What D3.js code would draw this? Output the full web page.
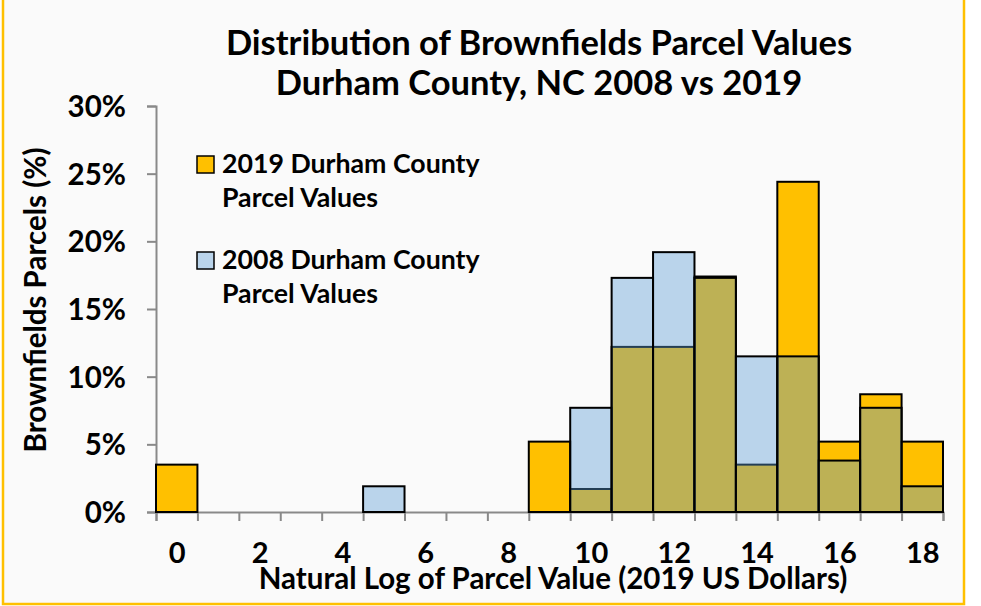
<!DOCTYPE html>
<html>
<head>
<meta charset="utf-8">
<script src="https://cdn.jsdelivr.net/npm/d3@7"></script>
<style>
  body { margin: 0; background: #fff; }
  svg text { font-family: Lato, "Open Sans", sans-serif; font-weight: bold; fill: #000; }
  .axis .domain, .axis .tick line { stroke: #898989; stroke-width: 2; }
</style>
</head>
<body>
<div id="chart"></div>
<script>
// histogram bins (natural log of parcel value), shares in percent
var bins = d3.range(0, 19);
var share2019 = [3.5, 0, 0, 0, 0, 0, 0, 0, 0, 5.2, 1.7, 12.2, 12.2, 17.4, 3.5, 24.4, 5.2, 8.7, 5.2];
var share2008 = [0, 0, 0, 0, 0, 1.9, 0, 0, 0, 0, 7.7, 17.3, 19.2, 17.3, 11.5, 11.5, 3.8, 7.7, 1.9];
var yTicks = [0, 5, 10, 15, 20, 25, 30];
var xLabels = [0, 2, 4, 6, 8, 10, 12, 14, 16, 18];
var titleLines = ['Distribution of Brownfields Parcel Values', 'Durham County, NC 2008 vs 2019'];
var legendItems = [
  { lines: ['2019 Durham County', 'Parcel Values'], fill: '#FFC000', opacity: 1 },
  { lines: ['2008 Durham County', 'Parcel Values'], fill: '#5B9BD5', opacity: 0.4 }
];

var size = { w: 981, h: 606 };
var plot = { left: 156, right: 943, top: 106, bottom: 512 };

var svg = d3.select('#chart').append('svg')
  .attr('width', size.w)
  .attr('height', size.h);

// chart frame
svg.append('rect')
  .attr('x', 3).attr('y', -5)
  .attr('width', 961).attr('height', 609)
  .attr('fill', '#fafafa')
  .attr('stroke', '#FFC000')
  .attr('stroke-width', 2.5);

var x = d3.scaleLinear().domain([0, 19]).range([plot.left, plot.right]);
var y = d3.scaleLinear().domain([0, 30]).range([plot.bottom, plot.top]);

// title
svg.append('text')
  .attr('text-anchor', 'middle')
  .style('font-size', '34.5px')
  .selectAll('tspan').data(titleLines).enter().append('tspan')
  .attr('x', 539)
  .attr('y', function(d, i) { return 55 + i * 40; })
  .text(function(d) { return d; });

// y axis
svg.append('g')
  .attr('class', 'axis axis-y')
  .attr('transform', 'translate(' + plot.left + ',0)')
  .call(d3.axisLeft(y).tickValues(yTicks).tickSize(9).tickPadding(21)
    .tickFormat(function(d) { return d + '%'; }))
  .call(function(g) {
    g.selectAll('.tick text').style('font-size', '29.5px').attr('dy', '0.36em');
  });

// x axis: tick marks on bin edges
svg.append('g')
  .attr('class', 'axis axis-x')
  .attr('transform', 'translate(0,' + plot.bottom + ')')
  .call(d3.axisBottom(x).tickValues(d3.range(0, 20)).tickSize(9).tickFormat(''));

// x labels at bin centres
svg.append('g')
  .attr('transform', 'translate(0,' + plot.bottom + ')')
  .call(d3.axisBottom(x).tickValues(xLabels.map(function(d) { return d + 0.5; })).tickSize(0)
    .tickFormat(function(d) { return d - 0.5; }))
  .call(function(g) {
    g.select('.domain').remove();
    g.selectAll('.tick text').style('font-size', '29px').attr('y', 51).attr('dy', 0);
  });

// bars: 2019 first, 2008 translucent on top
svg.append('g').selectAll('rect').data(bins.filter(function(i) { return share2019[i] > 0; }))
  .enter().append('rect')
  .attr('x', function(i) { return x(i); })
  .attr('y', function(i) { return y(share2019[i]); })
  .attr('width', function(i) { return x(i + 1) - x(i); })
  .attr('height', function(i) { return y(0) - y(share2019[i]); })
  .attr('fill', '#FFC000')
  .attr('stroke', '#000')
  .attr('stroke-width', 2);

svg.append('g').selectAll('rect').data(bins.filter(function(i) { return share2008[i] > 0; }))
  .enter().append('rect')
  .attr('x', function(i) { return x(i); })
  .attr('y', function(i) { return y(share2008[i]); })
  .attr('width', function(i) { return x(i + 1) - x(i); })
  .attr('height', function(i) { return y(0) - y(share2008[i]); })
  .attr('fill', '#5B9BD5')
  .attr('fill-opacity', 0.4)
  .attr('stroke', '#000')
  .attr('stroke-width', 2);

// legend
var legend = svg.append('g').selectAll('g').data(legendItems).enter().append('g')
  .attr('transform', function(d, i) { return 'translate(197,' + (156 + i * 96) + ')'; });
legend.append('rect')
  .attr('width', 17).attr('height', 17)
  .attr('fill', function(d) { return d.fill; })
  .attr('fill-opacity', function(d) { return d.opacity; })
  .attr('stroke', '#000')
  .attr('stroke-width', 1.5);
legend.append('text')
  .style('font-size', '26.7px')
  .selectAll('tspan').data(function(d) { return d.lines; }).enter().append('tspan')
  .attr('x', 25)
  .attr('y', function(d, i) { return 17 + i * 34; })
  .text(function(d) { return d; });

// axis titles
svg.append('text')
  .attr('transform', 'rotate(-90)')
  .attr('x', -300).attr('y', 46)
  .attr('text-anchor', 'middle')
  .style('font-size', '29.5px')
  .text('Brownfields Parcels (%)');

svg.append('text')
  .attr('x', 553).attr('y', 589)
  .attr('text-anchor', 'middle')
  .style('font-size', '29.5px')
  .text('Natural Log of Parcel Value (2019 US Dollars)');
</script>
</body>
</html>
